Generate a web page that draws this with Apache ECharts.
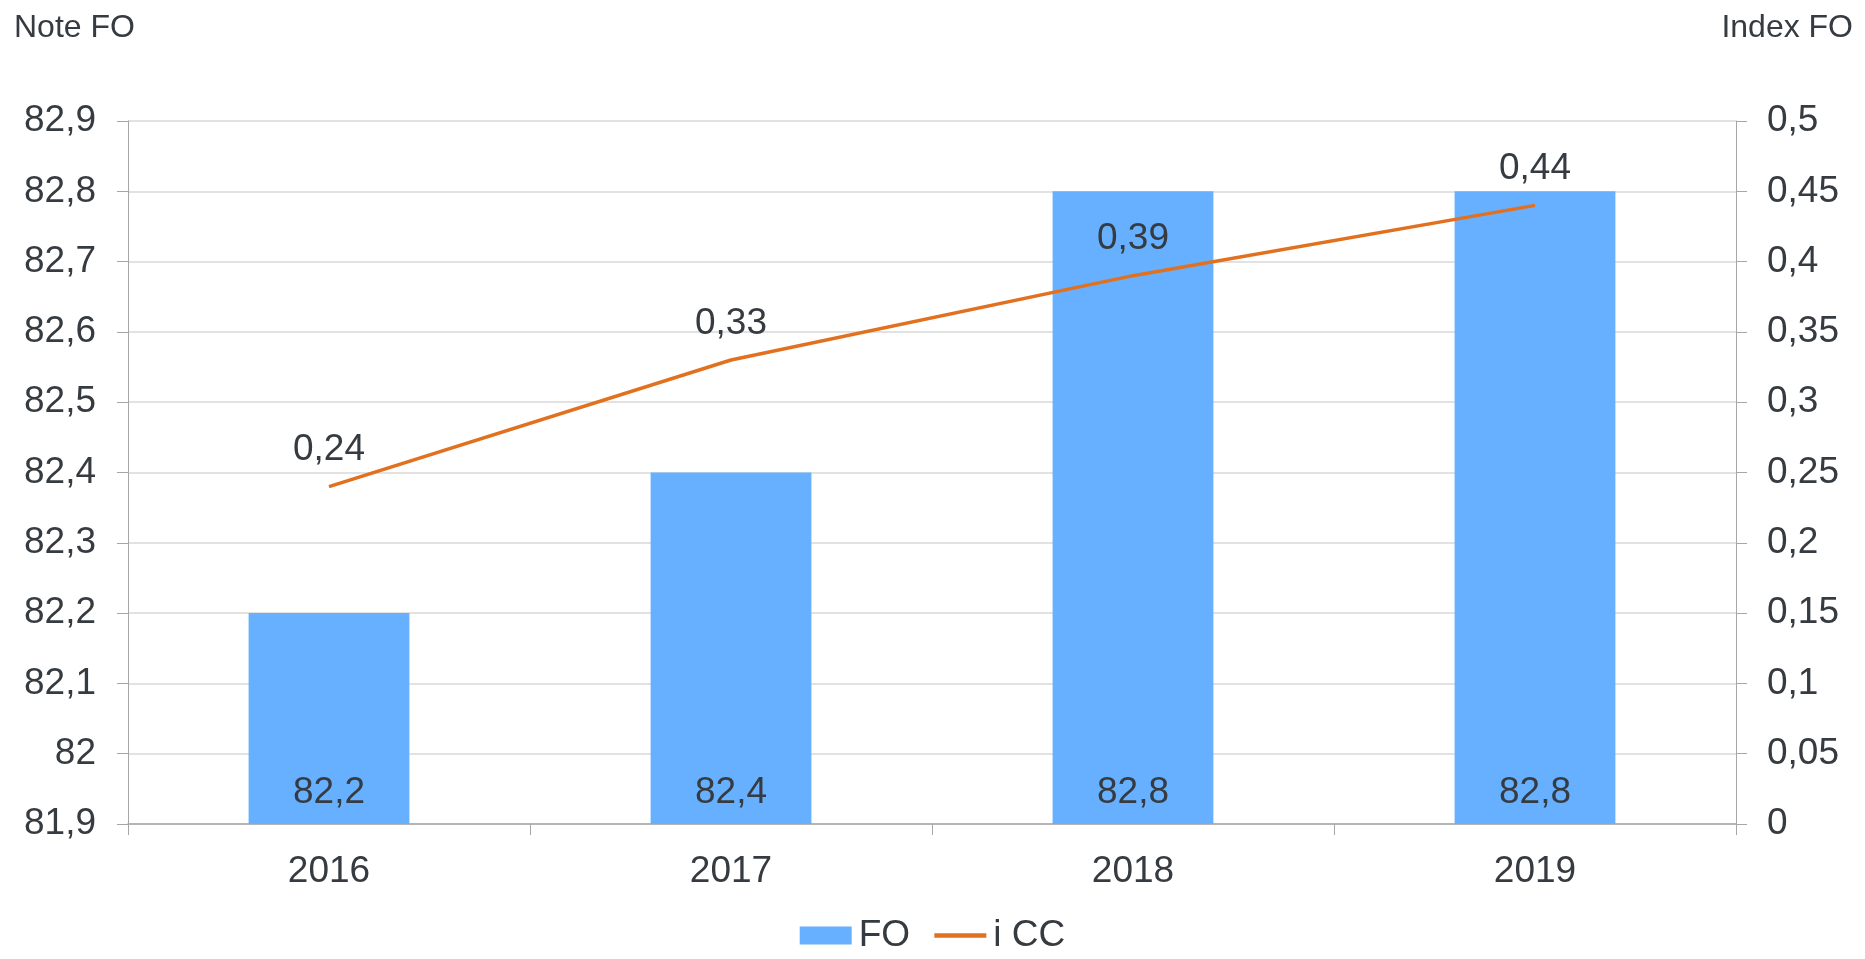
<!DOCTYPE html>
<html>
<head>
<meta charset="utf-8">
<script src="https://cdn.jsdelivr.net/npm/echarts@6/dist/echarts.min.js"></script>
<style>
  html, body { margin: 0; padding: 0; background: #fff; }
  #chart { width: 1865px; height: 959px; }
</style>
</head>
<body>
<div id="chart"></div>
<script>
  // données
  const years = ['2016', '2017', '2018', '2019']
  const noteFO = [82.2, 82.4, 82.8, 82.8]
  const indexCC = [0.24, 0.33, 0.39, 0.44]

  const txt = '#353b41'
  const fs = 37
  const fmt = v => String(parseFloat(v.toFixed(2))).replace('.', ',')

  const chart = echarts.init(document.getElementById('chart'))
  const option = {
    animation: false,
    textStyle: { fontFamily: 'Liberation Sans, Arial, sans-serif', color: txt },
    title: [
      { text: 'Note FO', left: 14, top: 12, padding: 0,
        textStyle: { fontSize: 32, fontWeight: 'normal', color: txt } },
      { text: 'Index FO', right: 12, top: 12, padding: 0,
        textStyle: { fontSize: 32, fontWeight: 'normal', color: txt } }
    ],
    grid: { left: 128, right: 129, top: 121, bottom: 135 },
    legend: {
      left: 'center', bottom: 0,
      itemWidth: 52, itemHeight: 18, itemGap: 22,
      textStyle: { fontSize: fs, color: txt, padding: [0, 0, 0, 2] },
      data: [
        { name: 'FO', icon: 'rect' },
        { name: 'i CC', itemStyle: { opacity: 0 }, lineStyle: { width: 4.5 } }
      ]
    },
    xAxis: {
      type: 'category',
      data: years,
      axisLine: { lineStyle: { color: '#a6a6a6', width: 1.5 } },
      axisTick: { show: true, length: 11, lineStyle: { color: '#a6a6a6' } },
      axisLabel: { fontSize: fs, color: txt, margin: 29 }
    },
    yAxis: [
      {
        type: 'value', min: 81.9, max: 82.9, interval: 0.1,
        axisLine: { show: true, lineStyle: { color: '#a6a6a6' } },
        axisTick: { show: true, length: 11, lineStyle: { color: '#a6a6a6' } },
        splitLine: { lineStyle: { color: '#d9d9d9', width: 1.5 } },
        axisLabel: { fontSize: fs, color: txt, margin: 32, formatter: fmt }
      },
      {
        type: 'value', min: 0, max: 0.5, interval: 0.05,
        axisLine: { show: true, lineStyle: { color: '#a6a6a6' } },
        axisTick: { show: true, length: 11, lineStyle: { color: '#a6a6a6' } },
        splitLine: { show: false },
        axisLabel: { fontSize: fs, color: txt, margin: 31, formatter: fmt }
      }
    ],
    series: [
      {
        name: 'FO',
        type: 'bar',
        data: noteFO,
        barWidth: '40%',
        itemStyle: { color: '#66b0ff' },
        label: {
          show: true, position: 'insideBottom', distance: 13,
          fontSize: fs, color: txt,
          formatter: p => fmt(p.value)
        }
      },
      {
        name: 'i CC',
        type: 'line',
        yAxisIndex: 1,
        data: indexCC,
        symbol: 'circle',
        symbolSize: 0,
        showSymbol: true,
        lineStyle: { color: '#e1701f', width: 3.5 },
        itemStyle: { color: '#e1701f' },
        label: {
          show: true, position: 'top', distance: 18,
          fontSize: fs, color: txt,
          formatter: p => fmt(p.value)
        }
      }
    ]
  }
  chart.setOption(option)
</script>
</body>
</html>
